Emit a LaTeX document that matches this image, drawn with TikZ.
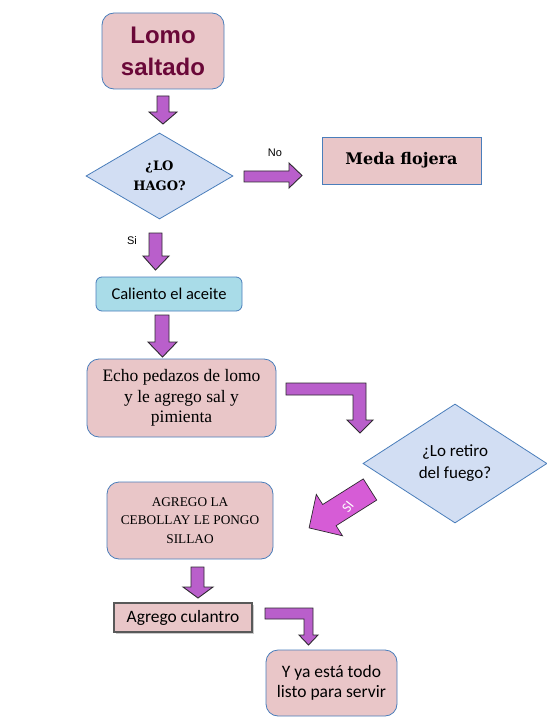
\documentclass[tikz,border=0pt]{standalone}
\usepackage{fontspec}
\setmainfont{Carlito}
\newfontfamily\serifA{Liberation Serif}
\newfontfamily\sansA{Liberation Sans}
\newfontfamily\serifB{DejaVu Serif}
\usetikzlibrary{shapes.geometric,shadows}
\definecolor{pinkfill}{HTML}{E9C6C8}
\definecolor{boxblue}{HTML}{4A7EBB}
\definecolor{diafill}{HTML}{D2DEF3}
\definecolor{cyanfill}{HTML}{A9DCE8}
\definecolor{arrfill}{HTML}{B95FCB}
\definecolor{arredge}{HTML}{2E2A30}
\definecolor{sifill}{HTML}{D65CD6}
\definecolor{maroon}{HTML}{6A0838}
\tikzset{
  rbox/.style={draw=boxblue, line width=0.8pt, fill=pinkfill, rounded corners=12pt, align=center, inner sep=0pt},
  sqbox/.style={draw=boxblue, line width=0.8pt, fill=pinkfill, align=center, inner sep=0pt},
  dia/.style={diamond, draw=boxblue, line width=0.8pt, fill=diafill, align=center, inner sep=0pt, aspect=1.7},
  blockarr/.style={draw=arredge, line width=0.9pt, fill=arrfill, line join=miter},
  lbl/.style={font=\sansA\fontsize{11pt}{13pt}\selectfont, inner sep=0pt}
}
\begin{document}
\begin{tikzpicture}[x=1pt,y=-1pt]
\useasboundingbox (0,0) rectangle (546,722);
\fill[white] (0,0) rectangle (546,722);

% nodes
\node[rbox, minimum width=122pt, minimum height=76pt, text=maroon,
  font=\sansA\bfseries\fontsize{24pt}{32pt}\selectfont] (lomo) at (163,51) {Lomo\\saltado};
\node[dia, minimum width=147pt, minimum height=86pt,
  font=\serifB\bfseries\fontsize{13pt}{20pt}\selectfont] (hago) at (159.5,176) {¿LO\\HAGO?};
\node[sqbox, minimum width=159pt, minimum height=47pt,
  font=\serifB\bfseries\fontsize{16pt}{18pt}\selectfont] (meda) at (401.5,160.5) {Meda flojera};
\node[rbox, fill=cyanfill, rounded corners=6pt, minimum width=146pt, minimum height=34pt,
  font=\fontsize{16.5pt}{19pt}\selectfont] (cal) at (169,294) {Caliento el aceite};
\node[rbox, minimum width=189pt, minimum height=78pt,
  font=\serifA\fontsize{17.5pt}{20.5pt}\selectfont] (echo) at (181.5,398) {Echo pedazos de lomo\\y le agrego sal y\\pimienta};
\node[dia, aspect=1.55, minimum width=184pt, minimum height=119pt,
  font=\fontsize{17pt}{22pt}\selectfont] (ret) at (455,463.5) {¿Lo retiro\\del fuego?};
\node[rbox, minimum width=166pt, minimum height=77pt,
  font=\serifA\fontsize{13.3pt}{18.5pt}\selectfont] (ceb) at (190,520.5) {AGREGO LA\\CEBOLLAY LE PONGO\\SILLAO};
\node[sqbox, draw=gray!70!black, line width=1.2pt, minimum width=138pt, minimum height=29pt,
  drop shadow={shadow xshift=1.5pt, shadow yshift=-1.5pt, opacity=0.4},
  font=\fontsize{17.4pt}{19pt}\selectfont] (cul) at (183,617.5) {Agrego culantro};
\node[rbox, minimum width=131pt, minimum height=66pt,
  font=\fontsize{17.5pt}{20pt}\selectfont] (listo) at (331.5,683) {Y ya está todo\\listo para servir};

% labels
\node[lbl] (no) at (275,153) {No};
\node[lbl] (si) at (132,241) {Si};

% block arrows
% down arrow 1
\draw[blockarr] (157,96) -- (169,96) -- (169,112) -- (177,112) -- (163,124) -- (149,112) -- (157,112) -- cycle;
% right arrow (No)
\draw[blockarr] (244,171) -- (289,171) -- (289,163) -- (302,175.5) -- (289,188) -- (289,182) -- (244,182) -- cycle;
% down arrow Si
\draw[blockarr] (149,233) -- (162,233) -- (162,256) -- (169,256) -- (155.5,270) -- (143,256) -- (149,256) -- cycle;
% down arrow 3
\draw[blockarr] (155,315) -- (169,315) -- (169,342) -- (177,342) -- (162.5,357) -- (148,342) -- (155,342) -- cycle;
% bent arrow 1
\draw[blockarr] (286,383) -- (366,383) -- (366,420) -- (373,420) -- (360,433) -- (347,420) -- (353,420) -- (353,395) -- (286,395) -- cycle;
% SI arrow
\draw[draw=arredge, line width=0.7pt, fill=sifill, line join=miter]
  (363.3,478.9) -- (376.7,500.1) -- (336.1,525.7) -- (342.5,535.8) -- (309.1,527.9) -- (316.3,494.4) -- (322.7,504.5) -- cycle;
\node[text=white, rotate=52, font=\fontsize{14pt}{15pt}\selectfont, inner sep=0pt] (silbl) at (348,507) {SI};
% down arrow 4
\draw[blockarr] (191,567) -- (204,567) -- (204,587) -- (213,587) -- (198,598) -- (183,587) -- (191,587) -- cycle;
% bent arrow 2
\draw[blockarr] (265,608) -- (313,608) -- (313,635) -- (318,635) -- (308.5,645) -- (299,635) -- (304,635) -- (304,619) -- (265,619) -- cycle;
\end{tikzpicture}
\end{document}
